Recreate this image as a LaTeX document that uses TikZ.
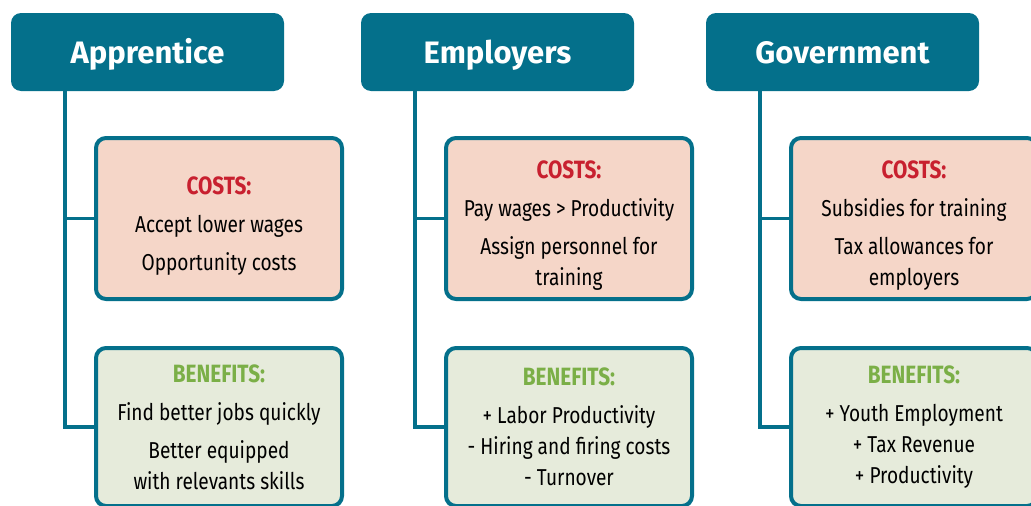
\documentclass[tikz,border=0pt]{standalone}
\usepackage{fontspec}
\setmainfont{Fira Sans}[FakeStretch=0.83]
\newfontfamily\headfont{Fira Sans}
\usetikzlibrary{positioning}

\definecolor{hdrteal}{HTML}{04708B}
\definecolor{costfill}{HTML}{F5D6C8}
\definecolor{benefill}{HTML}{E6EBDB}
\definecolor{costred}{HTML}{C8202F}
\definecolor{benegreen}{HTML}{7BAF47}

\newcommand{\costhead}{{\rule{0pt}{32pt}\bfseries\fontsize{25}{25}\selectfont\color{costred}COSTS:}}
\newcommand{\benefithead}{{\bfseries\fontsize{25}{25}\selectfont\color{benegreen}BENEFITS:}}

\tikzset{
    header/.style={fill=hdrteal, rounded corners=10pt, minimum width=273pt, minimum height=78pt,
        text height=26pt, text depth=4pt,
        text=white, font=\headfont\bfseries\fontsize{31}{31}\selectfont},
    infobox/.style={draw=hdrteal, line width=4pt, rounded corners=10pt, minimum width=246pt,
        align=center, font=\fontsize{23}{31}\selectfont},
    costbox/.style={infobox, fill=costfill, minimum height=161pt},
    benefitbox/.style={infobox, fill=benefill, minimum height=158pt},
    link/.style={draw=hdrteal, line width=3.5pt}
}

\begin{document}
\begin{tikzpicture}[x=1pt, y=-1pt]
    \useasboundingbox (0,0) rectangle (1031,506);
    \clip (0,0) rectangle (1031,506);

    % Apprentice
    \node[header] (hApp) at (147.5,52) {Apprentice};
    \node[costbox] (cApp) at (219,218.5) {\costhead\\[7pt] Accept lower wages\\[7pt] Opportunity costs};
    \node[benefitbox] (bApp) at (219,427) {\benefithead\\[7pt] Find better jobs quickly\\[7pt] Better equipped\\ with relevants skills};
    \coordinate (tApp) at ([xshift=-29pt]cApp.west);
    \draw[link] (tApp |- hApp.south) |- (bApp.west);
    \draw[link] (tApp) -- (cApp.west);

    % Employers
    \node[header] (hEmp) at (497.5,52) {Employers};
    \node[costbox] (cEmp) at (569,218.5) {\costhead\\[7pt] Pay wages > Productivity\\[7pt] Assign personnel for\\ training};
    \node[benefitbox] (bEmp) at (569,427) {\benefithead\\[7pt] + Labor Productivity\\ - Hiring and firing costs\\ - Turnover};
    \coordinate (tEmp) at ([xshift=-29pt]cEmp.west);
    \draw[link] (tEmp |- hEmp.south) |- (bEmp.west);
    \draw[link] (tEmp) -- (cEmp.west);

    % Government
    \node[header] (hGov) at (842.5,52) {Government};
    \node[costbox] (cGov) at (914,218.5) {\costhead\\[7pt] Subsidies for training\\[7pt] Tax allowances for\\ employers};
    \node[benefitbox] (bGov) at (914,427) {\benefithead\\[7pt] + Youth Employment\\ + Tax Revenue\\ + Productivity};
    \coordinate (tGov) at ([xshift=-29pt]cGov.west);
    \draw[link] (tGov |- hGov.south) |- (bGov.west);
    \draw[link] (tGov) -- (cGov.west);
\end{tikzpicture}
\end{document}
